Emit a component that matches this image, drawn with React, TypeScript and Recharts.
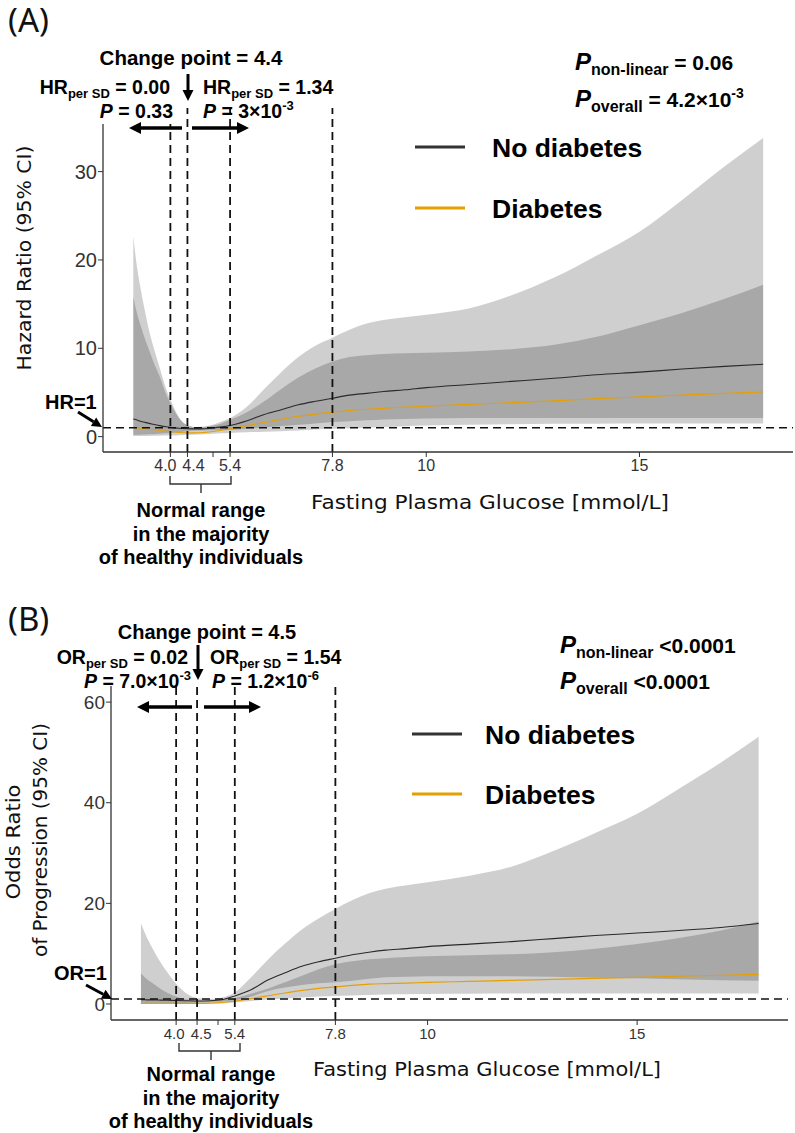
import React from 'react';
import {
  Area,
  ComposedChart,
  Line,
  ReferenceLine,
  XAxis,
  YAxis,
} from 'recharts';

// ---- Panel A: hazard ratio by fasting plasma glucose ----
const glucoseA = [
  3.13, 3.2, 3.3, 3.4, 3.5, 3.6, 3.75, 3.9, 4.0, 4.2, 4.4, 4.6, 4.8, 5.0, 5.2,
  5.4, 5.8, 6.2, 6.6, 7.0, 7.4, 7.8, 8.2, 8.6, 9.0, 9.5, 10, 11, 12, 13, 14, 15,
  16, 17, 17.9,
];
const hrNoDiab = [
  2.0, 1.9, 1.75, 1.62, 1.5, 1.4, 1.25, 1.12, 1.05, 0.95, 0.9, 0.88, 0.9, 0.98,
  1.1, 1.26, 1.8, 2.5, 3.05, 3.6, 4.0, 4.35, 4.7, 4.9, 5.1, 5.3, 5.55, 5.9, 6.25,
  6.6, 7.0, 7.3, 7.65, 7.95, 8.2,
];
const hrNoDiabLo = [
  0.18, 0.2, 0.22, 0.24, 0.26, 0.28, 0.32, 0.38, 0.42, 0.5, 0.6, 0.68, 0.7, 0.72,
  0.74, 0.76, 0.9, 1.05, 1.2, 1.35, 1.5, 1.65, 1.75, 1.85, 1.95, 2.0, 2.05, 2.1,
  2.1, 2.1, 2.1, 2.1, 2.1, 2.1, 2.1,
];
const hrNoDiabHi = [
  22.7, 19.8, 16.8, 14.3, 12.0, 10.2, 7.8, 5.4, 4.2, 2.2, 1.3, 1.1, 1.15, 1.35,
  1.7, 2.1, 3.4, 5.4, 7.3, 9.0, 10.3, 11.2, 12.1, 12.8, 13.2, 13.5, 13.8, 14.5,
  16.0, 18.0, 20.5, 23.2, 26.8, 30.6, 33.8,
];
const hrDiab = [
  1.06, 1.02, 0.95, 0.9, 0.85, 0.8, 0.7, 0.62, 0.58, 0.48, 0.42, 0.42, 0.48, 0.58,
  0.72, 0.88, 1.25, 1.6, 1.95, 2.3, 2.55, 2.75, 2.95, 3.1, 3.2, 3.35, 3.45, 3.65,
  3.85, 4.05, 4.3, 4.5, 4.7, 4.9, 5.06,
];
const hrDiabLo = [
  0.07, 0.07, 0.07, 0.08, 0.08, 0.09, 0.1, 0.12, 0.13, 0.16, 0.2, 0.24, 0.28,
  0.32, 0.37, 0.42, 0.5, 0.55, 0.62, 0.7, 0.8, 0.88, 0.95, 1.0, 1.08, 1.17, 1.25,
  1.35, 1.4, 1.45, 1.47, 1.48, 1.5, 1.5, 1.5,
];
const hrDiabHi = [
  15.9, 14.3, 12.6, 11.1, 9.8, 8.5, 6.8, 4.8, 3.8, 2.1, 1.25, 1.05, 1.1, 1.25,
  1.5, 1.9, 2.8, 4.0, 5.4, 6.7, 7.7, 8.5, 9.0, 9.2, 9.35, 9.45, 9.5, 9.65, 9.9,
  10.4, 11.3, 12.6, 14.0, 15.6, 17.2,
];

// ---- Panel B: odds ratio of progression ----
const glucoseB = [
  3.16, 3.25, 3.35, 3.5, 3.65, 3.8, 4.0, 4.2, 4.5, 4.8, 5.1, 5.4, 5.8, 6.2, 6.6,
  7.0, 7.4, 7.8, 8.2, 8.6, 9.0, 9.5, 10, 11, 12, 13, 14, 15, 16, 17, 17.9,
];
const orNoDiab = [
  0.85, 0.84, 0.82, 0.8, 0.77, 0.74, 0.7, 0.66, 0.6, 0.65, 0.85, 1.6, 2.9, 4.8,
  6.2, 7.5, 8.4, 9.1, 9.8, 10.3, 10.7, 11.0, 11.4, 11.9, 12.4, 13.0, 13.6, 14.1,
  14.6, 15.2, 16.0,
];
const orNoDiabLo = [
  0.04, 0.045, 0.05, 0.06, 0.08, 0.1, 0.15, 0.2, 0.3, 0.4, 0.5, 0.75, 1.5, 2.6,
  3.3, 3.8, 4.1, 4.3, 4.6, 5.0, 5.3, 5.4, 5.5, 5.5, 5.5, 5.4, 5.2, 5.1, 4.9, 4.7,
  4.6,
];
const orNoDiabHi = [
  16.0, 14.2, 12.4, 10.1, 8.0, 6.2, 4.0, 2.4, 1.2, 1.0, 1.3, 2.3, 5.4, 8.9, 12.0,
  14.8, 17.0, 18.9, 20.6, 22.0, 22.9, 23.6, 24.2, 25.5, 27.3, 30.4, 34.0, 37.8,
  42.8, 48.0, 53.1,
];
const orDiab = [
  0.15, 0.15, 0.15, 0.15, 0.14, 0.14, 0.13, 0.12, 0.12, 0.18, 0.3, 0.6, 1.1, 1.65,
  2.2, 2.7, 3.1, 3.4, 3.7, 3.95, 4.05, 4.15, 4.3, 4.5, 4.7, 4.9, 5.1, 5.3, 5.5,
  5.7, 5.9,
];
const orDiabLo = [
  0.004, 0.004, 0.004, 0.005, 0.005, 0.006, 0.008, 0.01, 0.02, 0.05, 0.1, 0.3,
  0.6, 0.9, 1.1, 1.3, 1.5, 1.6, 1.7, 1.8, 1.9, 1.95, 2.0, 2.05, 2.1, 2.1, 2.1,
  2.1, 2.1, 2.1, 2.1,
];
const orDiabHi = [
  6.1, 5.3, 4.6, 3.8, 2.9, 2.2, 1.5, 1.0, 0.7, 0.65, 0.8, 1.2, 2.1, 3.1, 4.3, 5.6,
  6.9, 7.9, 8.5, 8.9, 9.1, 9.35, 9.5, 9.7, 9.9, 10.3, 11.0, 11.9, 13.1, 14.6,
  16.4,
];

// axis ticks
const xTicksA = [4.0, 4.4, 5, 5.4, 7.8, 10, 15];
const xTickLabelsA = ['4.0', '4.4', '', '5.4', '7.8', '10', '15'];
const xTicksB = [4.0, 4.5, 5, 5.4, 7.8, 10, 15];
const xTickLabelsB = ['4.0', '4.5', '', '5.4', '7.8', '10', '15'];
const yTicksA = [0, 10, 20, 30];
const yTicksB = [0, 20, 40, 60];
const cutoffsA = [4.0, 4.4, 5.4, 7.8];
const cutoffsB = [4.0, 4.5, 5.4, 7.8];

// the crowded labels near the change point are nudged apart, like the original
const labelNudgeA = [-5, 6, 0, 0, 0, 0, 0];
const labelNudgeB = [-2, 4, 0, 0, 0, 0, 0];

const BLACK = '#2a2a2a';
const ORANGE = '#E69F00';
const SANS = '"Liberation Sans", Arial, sans-serif';
const TITLE = '"DejaVu Sans", "Noto Sans", sans-serif';
const LETTER = '"Noto Sans", "Open Sans", sans-serif';

const buildRows = (
  xs: number[],
  noDiab: number[],
  noLo: number[],
  noHi: number[],
  diab: number[],
  dLo: number[],
  dHi: number[],
) =>
  xs.map((x, i) => ({
    x,
    noDiab: noDiab[i],
    diab: diab[i],
    noDiabCI: [noLo[i], noHi[i]],
    diabCI: [dLo[i], dHi[i]],
  }));

const rowsA = buildRows(glucoseA, hrNoDiab, hrNoDiabLo, hrNoDiabHi, hrDiab, hrDiabLo, hrDiabHi);
const rowsB = buildRows(glucoseB, orNoDiab, orNoDiabLo, orNoDiabHi, orDiab, orDiabLo, orDiabHi);

interface PanelProps {
  rows: ReturnType<typeof buildRows>;
  height: number;
  margin: { top: number; right: number; bottom: number; left: number };
  xDomain: [number, number];
  yDomain: [number, number];
  xTicks: number[];
  xLabels: string[];
  nudge: number[];
  yTicks: number[];
  cutoffs: number[];
  xFont: number;
  yFont: number;
}

function Panel({
  rows,
  height,
  margin,
  xDomain,
  yDomain,
  xTicks,
  xLabels,
  nudge,
  yTicks,
  cutoffs,
  xFont,
  yFont,
}: PanelProps) {
  const renderTick = (p: any) => {
    const i = xTicks.indexOf(p.payload.value);
    return (
      <text
        x={p.x + (nudge[i] ?? 0)}
        y={p.y}
        dy="0.71em"
        textAnchor="middle"
        fill="#333"
        fontSize={xFont}
        fontFamily={SANS}
      >
        {xLabels[i] ?? ''}
      </text>
    );
  };

  return (
    <ComposedChart width={795} height={height} data={rows} margin={margin}>
      <XAxis
        type="number"
        dataKey="x"
        domain={xDomain}
        allowDataOverflow
        ticks={xTicks}
        interval={0}
        tick={renderTick}
        tickSize={5}
        tickMargin={3}
        height={30}
        axisLine={{ stroke: '#333', strokeWidth: 1.3 }}
        tickLine={{ stroke: '#333' }}
      />
      <YAxis
        type="number"
        domain={yDomain}
        allowDataOverflow
        ticks={yTicks}
        interval={0}
        tick={{ fill: '#333', fontSize: yFont, fontFamily: SANS }}
        tickSize={5}
        tickMargin={1}
        width={40}
        axisLine={{ stroke: '#333', strokeWidth: 1.3 }}
        tickLine={{ stroke: '#333' }}
      />
      <Area
        type="monotone"
        dataKey="noDiabCI"
        stroke="none"
        fill="#000"
        fillOpacity={0.19}
        legendType="none"
        isAnimationActive={false}
      />
      <Area
        type="monotone"
        dataKey="diabCI"
        stroke="none"
        fill="#000"
        fillOpacity={0.19}
        legendType="none"
        isAnimationActive={false}
      />
      <Line
        type="monotone"
        dataKey="noDiab"
        name="No diabetes"
        stroke={BLACK}
        strokeWidth={1.1}
        dot={false}
        isAnimationActive={false}
      />
      <Line
        type="monotone"
        dataKey="diab"
        name="Diabetes"
        stroke={ORANGE}
        strokeWidth={1.1}
        dot={false}
        isAnimationActive={false}
      />
      {cutoffs.map((c) => (
        <ReferenceLine key={c} x={c} stroke="#111" strokeWidth={1.8} strokeDasharray="8 5" />
      ))}
      <ReferenceLine y={1} stroke="#111" strokeWidth={1.6} strokeDasharray="8 5" />
    </ComposedChart>
  );
}

function Arrow({
  x1,
  y1,
  x2,
  y2,
  w = 3.5,
  head = 12,
}: {
  x1: number;
  y1: number;
  x2: number;
  y2: number;
  w?: number;
  head?: number;
}) {
  const len = Math.hypot(x2 - x1, y2 - y1);
  const ux = (x2 - x1) / len;
  const uy = (y2 - y1) / len;
  const bx = x2 - ux * head;
  const by = y2 - uy * head;
  const px = -uy * head * 0.5;
  const py = ux * head * 0.5;
  return (
    <g>
      <line x1={x1} y1={y1} x2={bx} y2={by} stroke="#000" strokeWidth={w} />
      <polygon
        points={`${x2},${y2} ${bx + px},${by + py} ${bx - px},${by - py}`}
        fill="#000"
      />
    </g>
  );
}

const bold = { fontFamily: SANS, fontWeight: 700, fill: '#000' } as const;

function Ratio({
  x,
  y,
  anchor,
  label,
  value,
}: {
  x: number;
  y: number;
  anchor: 'start' | 'end';
  label: string;
  value: string;
}) {
  return (
    <text x={x} y={y} textAnchor={anchor} fontSize={19.5} {...bold}>
      {label}
      <tspan fontSize={13} dy={4}>
        per SD
      </tspan>
      <tspan dy={-4}> = {value}</tspan>
    </text>
  );
}

function PValue({
  x,
  y,
  anchor,
  base,
  exp,
}: {
  x: number;
  y: number;
  anchor: 'start' | 'end';
  base: string;
  exp?: string;
}) {
  return (
    <text x={x} y={y} textAnchor={anchor} fontSize={19.5} {...bold}>
      <tspan fontStyle="italic">P</tspan> = {base}
      {exp && (
        <tspan fontSize={13} dy={-8}>
          {exp}
        </tspan>
      )}
    </text>
  );
}

function OverallP({ x, y, sub, rest, exp }: { x: number; y: number; sub: string; rest: string; exp?: string }) {
  return (
    <text x={x} y={y} {...bold} fontSize={21}>
      <tspan fontStyle="italic" fontSize={24}>
        P
      </tspan>
      <tspan fontSize={16} dy={5}>
        {sub}
      </tspan>
      <tspan dy={-5}>{rest}</tspan>
      {exp && (
        <tspan fontSize={14} dy={-9}>
          {exp}
        </tspan>
      )}
    </text>
  );
}

function LegendBlock({ x, y1, y2, tx }: { x: number; y1: number; y2: number; tx: number }) {
  return (
    <g>
      <line x1={x} y1={y1} x2={x + 50} y2={y1} stroke="#333" strokeWidth={3} />
      <text x={tx} y={y1 + 9.5} fontSize={26.5} {...bold}>
        No diabetes
      </text>
      <line x1={x} y1={y2} x2={x + 50} y2={y2} stroke={ORANGE} strokeWidth={3} />
      <text x={tx} y={y2 + 9.5} fontSize={26.5} {...bold}>
        Diabetes
      </text>
    </g>
  );
}

function NormalRange({ x1, x2, y, cx, ty }: { x1: number; x2: number; y: number; cx: number; ty: number }) {
  return (
    <g>
      <path
        d={`M${x1},${y - 8} V${y} H${x2} V${y - 8} M${cx},${y} V${y + 9}`}
        fill="none"
        stroke="#333"
        strokeWidth={1.4}
      />
      {['Normal range', 'in the majority', 'of healthy individuals'].map((t, i) => (
        <text key={t} x={cx} y={ty + i * 23.5} textAnchor="middle" fontSize={20} {...bold}>
          {t}
        </text>
      ))}
    </g>
  );
}

function VTitle({ x, y, len, children }: { x: number; y: number; len: number; children: string }) {
  return (
    <text
      x={x}
      y={y}
      textAnchor="middle"
      dominantBaseline="central"
      fontSize={20}
      fontFamily={TITLE}
      fill="#111"
      textLength={len}
      lengthAdjust="spacingAndGlyphs"
      transform={`rotate(-90 ${x} ${y})`}
    >
      {children}
    </text>
  );
}

function Annotations() {
  return (
    <svg
      width={795}
      height={1133}
      style={{ position: 'absolute', left: 0, top: 0, pointerEvents: 'none' }}
    >
      {/* ---------- Panel A ---------- */}
      <text x={8} y={32} fontSize={33} fontFamily={LETTER} fill="#111">
        (A)
      </text>
      <rect x={95} y={99} width={79} height={25} fill="#fff" />
      <text x={191} y={65} textAnchor="middle" fontSize={20.5} {...bold}>
        Change point = 4.4
      </text>
      <Ratio x={170} y={94} anchor="end" label="HR" value="0.00" />
      <Ratio x={203} y={94} anchor="start" label="HR" value="1.34" />
      <PValue x={173} y={118} anchor="end" base="0.33" />
      <PValue x={203} y={118} anchor="start" base="3×10" exp="-3" />
      <Arrow x1={188} y1={74} x2={188} y2={101} w={3} head={11} />
      <Arrow x1={182} y1={128} x2={129} y2={128} />
      <Arrow x1={192} y1={128} x2={249} y2={128} />
      <OverallP x={575} y={70} sub="non-linear" rest=" = 0.06" />
      <OverallP x={575} y={107} sub="overall" rest=" = 4.2×10" exp="-3" />
      <LegendBlock x={415} y1={147} y2={208} tx={492} />
      <text x={45} y={409} fontSize={20} {...bold}>
        HR=1
      </text>
      <Arrow x1={78} y1={412} x2={102} y2={427} w={3} head={10} />
      <NormalRange x1={170} x2={231} y={484} cx={201} ty={517} />
      <text
        x={490}
        y={509}
        textAnchor="middle"
        fontSize={20}
        fontFamily={TITLE}
        fill="#111"
        textLength={358}
        lengthAdjust="spacingAndGlyphs"
      >
        Fasting Plasma Glucose [mmol/L]
      </text>
      <VTitle x={24} y={258} len={225}>
        Hazard Ratio (95% CI)
      </VTitle>

      {/* ---------- Panel B ---------- */}
      <text x={8} y={631} fontSize={33} fontFamily={LETTER} fill="#111">
        (B)
      </text>
      <text x={207} y={639} textAnchor="middle" fontSize={20} {...bold}>
        Change point = 4.5
      </text>
      <Ratio x={188} y={664} anchor="end" label="OR" value="0.02" />
      <Ratio x={210} y={664} anchor="start" label="OR" value="1.54" />
      <PValue x={191} y={688} anchor="end" base="7.0×10" exp="-3" />
      <PValue x={212} y={688} anchor="start" base="1.2×10" exp="-6" />
      <Arrow x1={198} y1={645} x2={198} y2={680} w={3} head={11} />
      <Arrow x1={192} y1={707} x2={137} y2={707} />
      <Arrow x1={204} y1={707} x2={261} y2={707} />
      <OverallP x={560} y={653} sub="non-linear" rest=" <0.0001" />
      <OverallP x={560} y={689} sub="overall" rest=" <0.0001" />
      <LegendBlock x={412} y1={734} y2={794} tx={485} />
      <text x={54} y={980} fontSize={20} {...bold}>
        OR=1
      </text>
      <Arrow x1={86} y1={985} x2={112} y2={999} w={3} head={10} />
      <NormalRange x1={179} x2={240} y={1051} cx={211} ty={1081} />
      <text
        x={487}
        y={1076}
        textAnchor="middle"
        fontSize={20}
        fontFamily={TITLE}
        fill="#111"
        textLength={348}
        lengthAdjust="spacingAndGlyphs"
      >
        Fasting Plasma Glucose [mmol/L]
      </text>
      <VTitle x={13} y={842} len={115}>
        Odds Ratio
      </VTitle>
      <VTitle x={40} y={840} len={234}>
        of Progression (95% CI)
      </VTitle>
    </svg>
  );
}

export default function App() {
  return (
    <div
      style={{
        position: 'absolute',
        left: 0,
        top: 0,
        width: 795,
        height: 1133,
        background: '#fff',
        overflow: 'hidden',
      }}
    >
      <div style={{ position: 'absolute', left: 0, top: 0 }}>
        <Panel
          rows={rowsA}
          height={560}
          margin={{ top: 108, right: 2, bottom: 78, left: 63 }}
          xDomain={[2.42, 18.6]}
          yDomain={[-1.74, 37.2]}
          xTicks={xTicksA}
          xLabels={xTickLabelsA}
          nudge={labelNudgeA}
          yTicks={yTicksA}
          cutoffs={cutoffsA}
          xFont={16}
          yFont={20}
        />
      </div>
      <div style={{ position: 'absolute', left: 0, top: 580 }}>
        <Panel
          rows={rowsB}
          height={553}
          margin={{ top: 106, right: 7, bottom: 83, left: 71 }}
          xDomain={[2.446, 18.6]}
          yDomain={[-3.18, 63.2]}
          xTicks={xTicksB}
          xLabels={xTickLabelsB}
          nudge={labelNudgeB}
          yTicks={yTicksB}
          cutoffs={cutoffsB}
          xFont={15}
          yFont={19}
        />
      </div>
      <Annotations />
    </div>
  );
}
